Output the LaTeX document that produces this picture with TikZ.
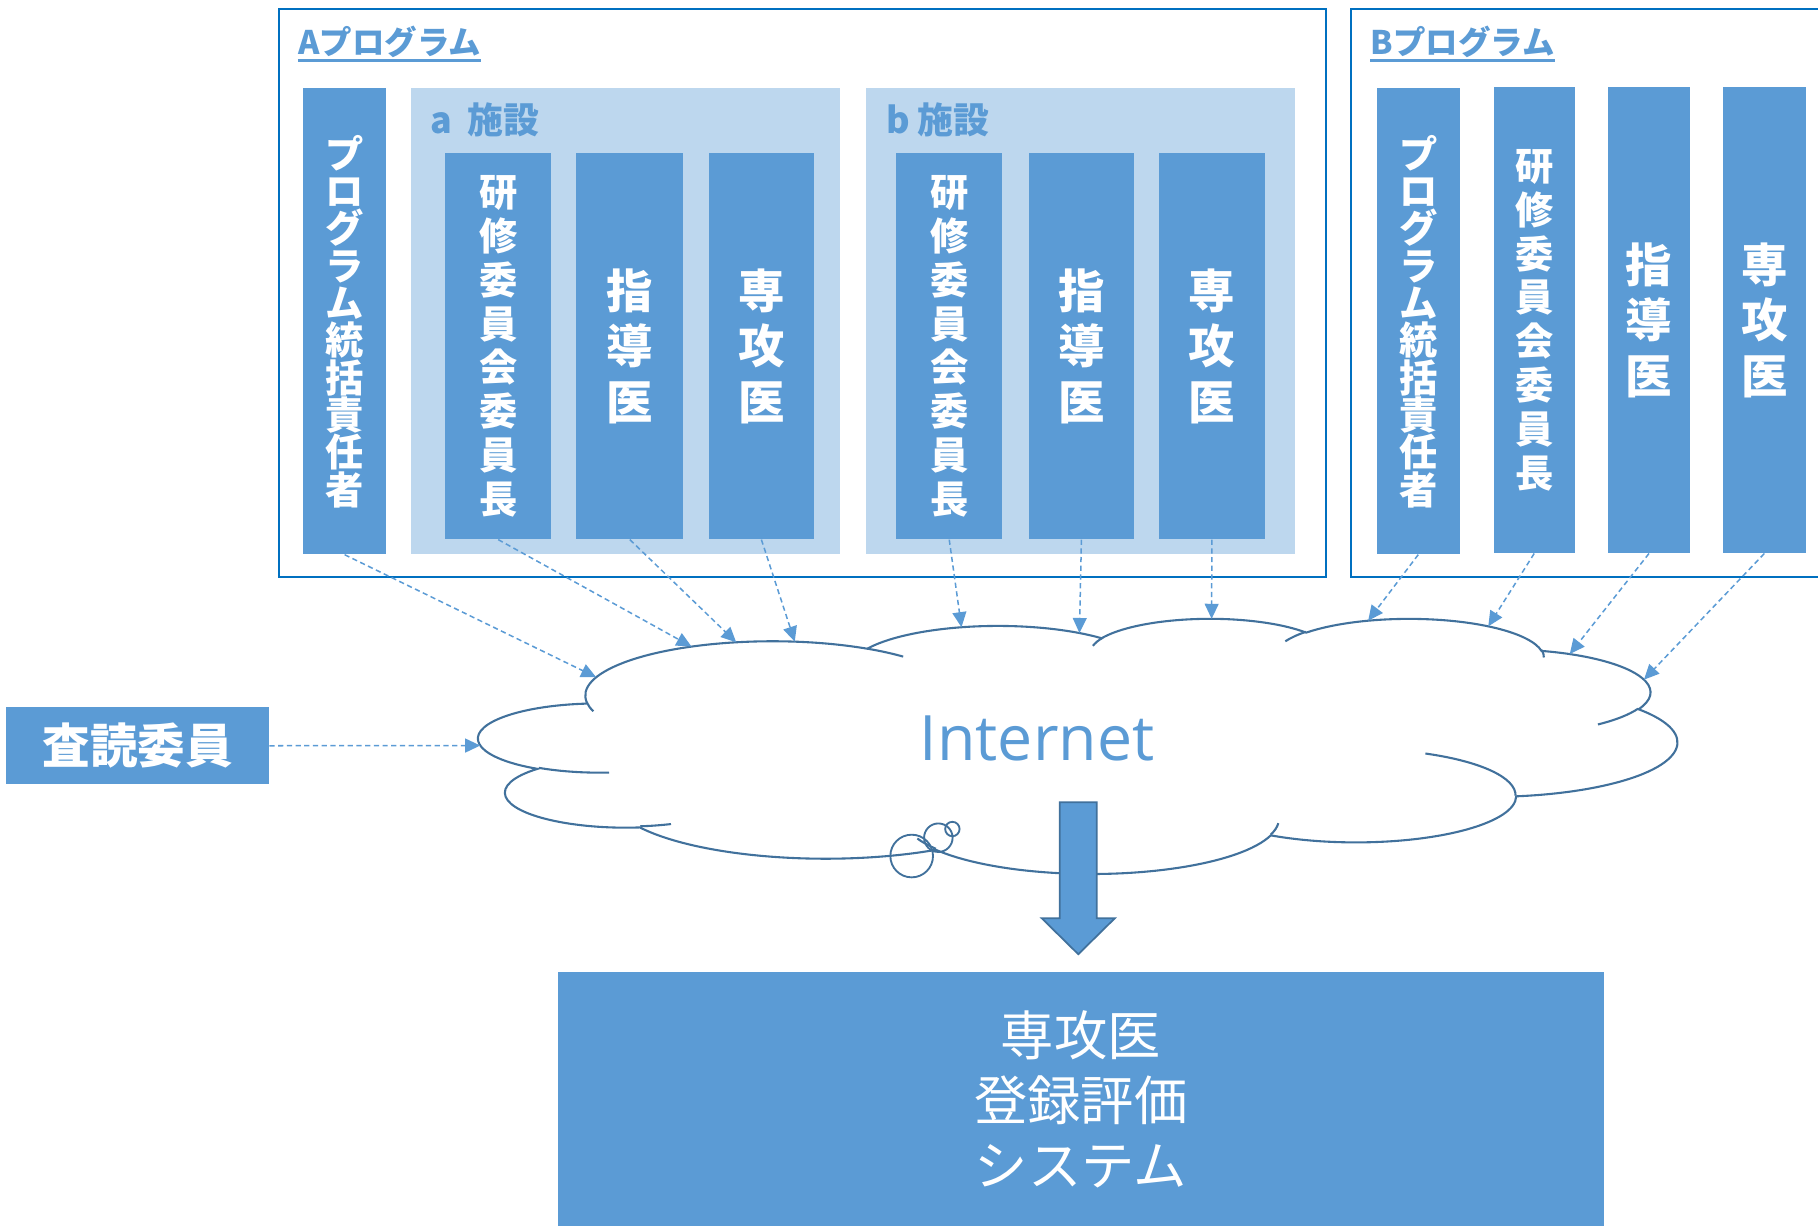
\documentclass[tikz,border=0pt]{standalone}
\usepackage{fontspec}
\setmainfont{Noto Sans CJK JP}
\newfontfamily\latf{Open Sans}
\usetikzlibrary{calc,intersections,arrows.meta}
\definecolor{mblue}{HTML}{5B9BD5}
\definecolor{lblue}{HTML}{BDD7EE}
\definecolor{dblue}{HTML}{41719C}
\definecolor{bblue}{HTML}{0070C0}
% OOXML-style arcTo: rx, ry (shape units /1000), start angle, swing (degrees, y down)
\newcommand\carc[4]{%
 \pgfextra{%
  \pgfmathsetmacro\cts{atan2((#1)*sin(#3),(#2)*cos(#3))}%
  \pgfmathsetmacro\cte{atan2((#1)*sin((#3)+(#4)),(#2)*cos((#3)+(#4)))}%
  \pgfmathsetmacro\cte{\cts+mod(\cte-\cts+720,360)}%
  \pgfmathsetmacro\crx{(#1)*23.92}%
  \pgfmathsetmacro\cry{(#2)*5.0926}%
 }%
 arc[start angle={0-(\cts)}, end angle={0-(\cte)}, x radius=\crx pt, y radius=\cry pt]%
}
\newcommand\cpt[2]{({413+(#1)*23.92},{533+(#2)*5.0926})}
\newcommand\linkto[3]{%
  \path[name path=g#3] (#1) -- ($(#1)!1.3!#2$);
  \path[name intersections={of=cloud and g#3, sort by=g#3, by={e#3}}];
  \draw[link] (#1) -- (e#3);
}
\begin{document}
\begin{tikzpicture}[x=1pt,y=-1pt,
  prog/.style={draw=bblue, line width=1.8pt, inner sep=0, anchor=north west},
  fac/.style={fill=lblue, inner sep=0, anchor=north west},
  col/.style={fill=mblue, text=white, inner sep=0, align=center, anchor=north west},
  vtA/.style={font=\bfseries\fontsize{33}{32.2}\selectfont},
  vtB/.style={font=\bfseries\fontsize{33}{37.9}\selectfont},
  vtC/.style={font=\bfseries\fontsize{40}{48}\selectfont},
  ttl/.style={text=mblue, font=\bfseries\fontsize{28}{34}\selectfont, inner sep=0, anchor=base west},
  facl/.style={text=mblue, font=\bfseries\fontsize{31}{36}\selectfont, inner sep=0, anchor=base west},
  link/.style={draw=mblue, line width=1.3pt, dash pattern=on 4.5pt off 3pt, -{Triangle[length=13pt,width=12pt]}},
  cl/.style={draw=dblue, line width=1.8pt},
]
\useasboundingbox (0,0) rectangle (1568,1057);
\clip (0,0) rectangle (1568,1057);

% program frames
\node[prog, minimum width=903, minimum height=490] (progA) at (240,7) {};
\node[prog, minimum width=500, minimum height=490] (progB) at (1164,7) {};
\node[ttl] (tA) at (257,47) {Aプログラム};
\node[ttl] (tB) at (1182,47) {Bプログラム};
\draw[mblue, line width=2.5pt] ([yshift=-5pt]tA.base west) -- ([yshift=-5pt]tA.base east);
\draw[mblue, line width=2.5pt] ([yshift=-5pt]tB.base west) -- ([yshift=-5pt]tB.base east);

% A program
\node[col, vtA, minimum width=72, minimum height=402] (pA) at (261,76) {プ\\ロ\\グ\\ラ\\ム\\統\\括\\責\\任\\者};
\node[fac, minimum width=370, minimum height=402] (fa) at (354,76) {};
\node[facl] (fal) at (371,115) {a\hspace{6pt} 施設};
\node[col, vtB, minimum width=91, minimum height=333] (ak) at (384,132) {研\\修\\委\\員\\会\\委\\員\\長};
\node[col, vtC, minimum width=92, minimum height=333] (as) at (497,132) {指\\導\\医};
\node[col, vtC, minimum width=91, minimum height=333] (ae) at (611,132) {専\\攻\\医};
\node[fac, minimum width=370, minimum height=402] (fb) at (747,76) {};
\node[facl] (fbl) at (764,115) {b 施設};
\node[col, vtB, minimum width=91, minimum height=333] (bk) at (773,132) {研\\修\\委\\員\\会\\委\\員\\長};
\node[col, vtC, minimum width=91, minimum height=333] (bs) at (887,132) {指\\導\\医};
\node[col, vtC, minimum width=92, minimum height=333] (be) at (999,132) {専\\攻\\医};

% B program
\node[col, vtA, minimum width=72, minimum height=402] (pB) at (1187,76) {プ\\ロ\\グ\\ラ\\ム\\統\\括\\責\\任\\者};
\node[col, vtB, minimum width=70, minimum height=402] (Bk) at (1288,75) {研\\修\\委\\員\\会\\委\\員\\長};
\node[col, vtC, minimum width=70, minimum height=402] (Bs) at (1387,75) {指\\導\\医};
\node[col, vtC, minimum width=71, minimum height=402] (Be) at (1486,75) {専\\攻\\医};

% reviewer
\node[fill=mblue, text=white, font=\bfseries\fontsize{41}{48}\selectfont, minimum width=227, minimum height=66, inner sep=0, anchor=north west] (rev) at (5,610) {査読委員};

% cloud
\draw[cl, fill=white, name path=cloud] \cpt{3.900}{14.370}
  \carc{6.753}{9.190}{-190.48748}{123.78053}
  \carc{5.333}{7.267}{-144.10238}{89.94523}
  \carc{4.365}{5.945}{-145.80792}{99.72302}
  \carc{4.857}{6.595}{-130.98607}{117.24173}
  \carc{5.333}{7.273}{-78.70888}{109.02692}
  \carc{6.775}{9.220}{-46.26725}{130.269}
  \carc{5.785}{7.867}{0.62502}{114.03333}
  \carc{6.752}{9.215}{22.4516}{115.17255}
  \carc{7.720}{10.543}{66.24263}{75.71102}
  \carc{4.360}{5.918}{-274.94208}{146.73557}
  \carc{4.345}{5.945}{-246.8285}{152.51885}
  -- cycle;
\draw[cl] \cpt{4.693}{26.177} \carc{4.345}{5.945}{86.742}{26.4295};
\draw[cl] \cpt{6.928}{34.899} \carc{4.360}{5.918}{73.61047}{11.44747};
\draw[cl] \cpt{16.478}{39.090} \carc{6.752}{9.215}{137.62415}{14.0811};
\draw[cl] \cpt{28.827}{34.751} \carc{6.752}{9.215}{6.45327}{15.99835};
\draw[cl] \cpt{34.129}{22.954} \carc{5.785}{7.867}{-70.29235}{70.91737};
\draw[cl] \cpt{41.798}{15.354} \carc{5.333}{7.273}{30.31803}{27.7515};
\draw[cl] \cpt{38.324}{5.426} \carc{4.857}{6.595}{-13.74433}{14.8589};
\draw[cl] \cpt{29.078}{3.952} \carc{4.857}{6.595}{-149.18145}{18.19537};
\draw[cl] \cpt{22.141}{4.720} \carc{4.365}{5.945}{-163.49427}{17.68635};
\draw[cl] \cpt{14.000}{5.192} \carc{6.753}{9.190}{-66.70695}{12.31935};
\draw[cl] \cpt{4.127}{15.789} \carc{6.753}{9.190}{157.65435}{11.85817};
% callout bubbles
\draw[cl, line width=1.6pt] (786.3,738.3) circle[radius=18.4pt];
\draw[cl, line width=1.6pt] (809.3,722.5) circle[radius=12.3pt];
\draw[cl, line width=1.6pt] (821.4,715) circle[radius=6.2pt];

\node[text=mblue, font=\latf\fontsize{54}{60}\selectfont, inner sep=0, anchor=base] (inet) at (894.5,656) {Internet};

% dashed links
\linkto{pA.south}{(514,584)}{1}
\linkto{ak.south}{(588,553)}{2}
\linkto{as.south}{(634,553)}{3}
\linkto{ae.south}{(685,552)}{4}
\linkto{bk.south}{(829,539)}{5}
\linkto{bs.south}{(931,546)}{6}
\linkto{be.south}{(1045,538)}{7}
\linkto{pB.south}{(1178,538)}{8}
\linkto{Bk.south}{(1285,538)}{9}
\linkto{Bs.south}{(1354,564)}{10}
\linkto{Be.south}{(1420,584)}{11}
\linkto{rev.east}{(418,643)}{12}

% system box and block arrow
\node[fill=mblue, text=white, font=\fontsize{46}{56}\selectfont, align=center, minimum width=902, minimum height=220, inner sep=0, anchor=north west] (sys) at (481,838) {専攻医\\登録評価\\システム};
\draw[fill=mblue, draw=dblue, line width=1.5pt] (914,692) -- (946,692) -- (946,792) -- (961.5,792) -- (930,823) -- (898.5,792) -- (914,792) -- cycle;
\end{tikzpicture}
\end{document}
